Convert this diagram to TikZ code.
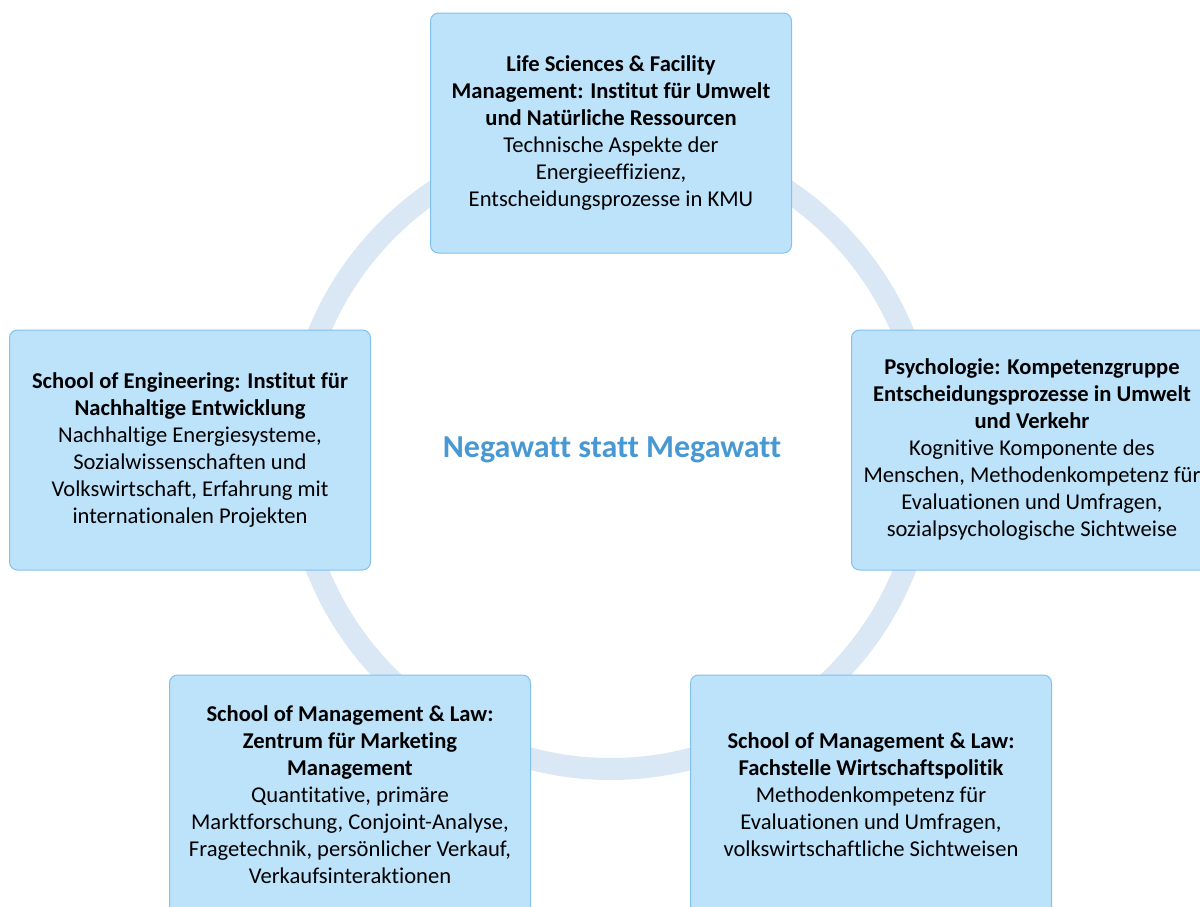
\documentclass[tikz,border=0pt]{standalone}
\usepackage{fontspec}
\setmainfont{Carlito}[Ligatures=NoCommon]
\usetikzlibrary{positioning}
\definecolor{boxfill}{RGB}{189,227,251}
\definecolor{boxline}{RGB}{130,192,240}
\definecolor{ringblue}{RGB}{218,232,245}
\definecolor{titleblue}{RGB}{72,152,212}

\begin{document}
\begin{tikzpicture}[x=1pt, y=-1pt,
    unit/.style={draw=boxline, line width=1pt, fill=boxfill, rounded corners=8pt,
      minimum width=361pt, minimum height=240pt, inner sep=0pt, align=center,
      font=\fontsize{22.6}{27}\selectfont}]
    \clip (0,0) rectangle (1200,906);
    \coordinate (hub) at (611,453);
    \draw[ringblue, line width=22pt] (hub) circle[radius=316pt];
    \node[unit] (lsfm) at (611,133) {\textbf{Life Sciences \& Facility}\\
      \textbf{Management: Institut für Umwelt}\\
      \textbf{und Natürliche Ressourcen}\\
      Technische Aspekte der\\ Energieeffizienz,\\ Entscheidungsprozesse in KMU};
    \node[unit] (soe) at (190,450) {\textbf{School of Engineering: Institut für}\\
      \textbf{Nachhaltige Entwicklung}\\
      Nachhaltige Energiesysteme,\\ Sozialwissenschaften und\\
      Volkswirtschaft, Erfahrung mit\\ internationalen Projekten};
    \node[unit] (psy) at (1032,450) {\textbf{Psychologie: Kompetenzgruppe}\\
      \textbf{Entscheidungsprozesse in Umwelt}\\
      \textbf{und Verkehr}\\
      Kognitive Komponente des\\ Menschen, Methodenkompetenz für\\
      Evaluationen und Umfragen,\\ sozialpsychologische Sichtweise};
    \node[unit] (zmm) at (350,795) {\textbf{School of Management \& Law:}\\
      \textbf{Zentrum für Marketing}\\
      \textbf{Management}\\
      Quantitative, primäre\\ Marktforschung, Conjoint-Analyse,\\
      Fragetechnik, persönlicher Verkauf,\\ Verkaufsinteraktionen};
    \node[unit] (fwp) at (871,795) {\textbf{School of Management \& Law:}\\
      \textbf{Fachstelle Wirtschaftspolitik}\\
      Methodenkompetenz für\\ Evaluationen und Umfragen,\\
      volkswirtschaftliche Sichtweisen};
    \node[text=titleblue, font=\fontsize{32}{38}\selectfont\bfseries] (title) at (612,450) {Negawatt statt Megawatt};
\end{tikzpicture}
\end{document}
